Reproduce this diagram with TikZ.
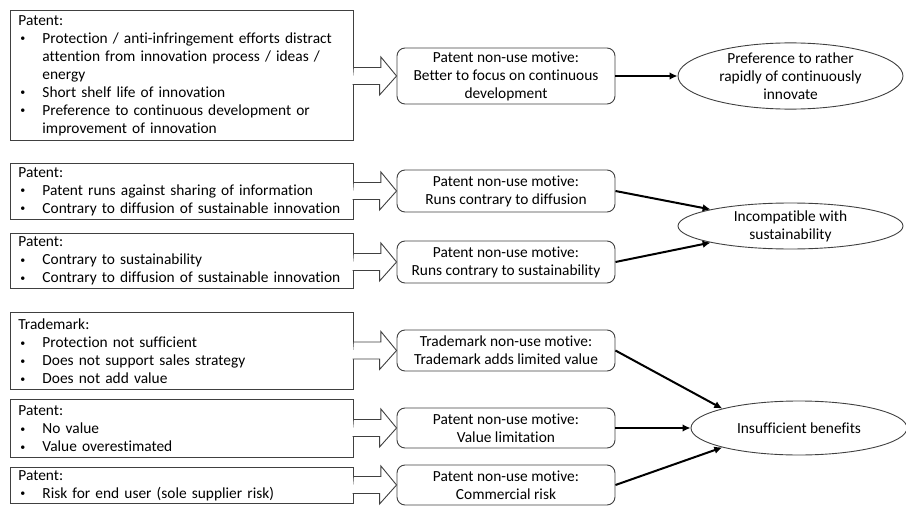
\documentclass[tikz,border=0pt]{standalone}
\usepackage{fontspec}
\setmainfont{Carlito}[Ligatures=NoCommon]
\usetikzlibrary{arrows.meta,shapes.geometric}
\newcommand\bul{\makebox[24pt][l]{\hspace{2pt}\raisebox{1.2pt}{\fontsize{10}{10}\selectfont\textbullet}}}
\newcommand\ind{\hspace*{24pt}}
\newcommand\hollowarrow[2]{\draw[harrow] (#1.east |- #2.west) ++(0,-8.5) -- ++(27,0) -- ++(0,-10.5) -- (#2.west) -- ++(-17,19) -- ++(0,-10.5) -- ++(-27,0);}
\begin{document}
\begin{tikzpicture}[x=1pt,y=-1pt,
  every node/.style={font=\fontsize{15.4}{18}\selectfont},
  tbox/.style={draw=black!75,line width=0.9pt,rectangle,anchor=north west,inner xsep=8pt,inner ysep=0pt,text width=327pt,align=left,minimum width=343pt},
  mbox/.style={draw=black!75,line width=0.9pt,rounded corners=8pt,minimum width=218pt,inner sep=0pt,align=center},
  ebox/.style={draw=black!75,line width=0.9pt,ellipse,inner sep=0pt,align=center},
  harrow/.style={draw=black!75,line width=0.9pt,fill=white,line join=miter},
  thick arrow/.style={draw=black,line width=2pt,-{Latex[length=8pt,width=7.5pt]}}]
\useasboundingbox (0,0) rectangle (906,506);

% left text boxes
\node[tbox,minimum height=130pt] (t1) at (10,10) {Patent:\\
\bul Protection / anti-infringement efforts distract\\
\ind attention from innovation process / ideas /\\
\ind energy\\
\bul Short shelf life of innovation\\
\bul Preference to continuous development or\\
\ind improvement of innovation};
\node[tbox,minimum height=56pt] (t2) at (10,163) {Patent:\\
\bul Patent runs against sharing of information\\
\bul Contrary to diffusion of sustainable innovation};
\node[tbox,minimum height=55pt] (t3) at (10,233) {Patent:\\
\bul Contrary to sustainability\\
\bul Contrary to diffusion of sustainable innovation};
\node[tbox,minimum height=77pt] (t4) at (10,312) {Trademark:\\
\bul Protection not sufficient\\
\bul Does not support sales strategy\\
\bul Does not add value};
\node[tbox,minimum height=58pt] (t5) at (10,399) {Patent:\\
\bul No value\\
\bul Value overestimated};
\node[tbox,minimum height=36pt] (t6) at (10,467) {Patent:\\
\bul Risk for end user (sole supplier risk)};

% motive boxes
\node[mbox,minimum height=56pt] (m1) at (506,76) {Patent non-use motive:\\Better to focus on continuous\\development};
\node[mbox,minimum height=42pt] (m2) at (506,191) {Patent non-use motive:\\Runs contrary to diffusion};
\node[mbox,minimum height=42pt] (m3) at (506,262) {Patent non-use motive:\\Runs contrary to sustainability};
\node[mbox,minimum height=41pt] (m4) at (506,350.5) {Trademark non-use motive:\\Trademark adds limited value};
\node[mbox,minimum height=40pt] (m5) at (506,428) {Patent non-use motive:\\Value limitation};
\node[mbox,minimum height=40pt] (m6) at (506,485) {Patent non-use motive:\\Commercial risk};

% outcome ellipses
\node[ebox,minimum width=225pt,minimum height=57pt] (e1) at (790.5,76) {Preference to rather\\rapidly of continuously\\innovate};
\node[ebox,minimum width=225pt,minimum height=46pt] (e2) at (790.5,226) {Incompatible with\\sustainability};
\node[ebox,minimum width=216pt,minimum height=54pt] (e3) at (799,428) {Insufficient benefits};

% hollow arrows
\hollowarrow{t1}{m1}
\hollowarrow{t2}{m2}
\hollowarrow{t3}{m3}
\hollowarrow{t4}{m4}
\hollowarrow{t5}{m5}
\hollowarrow{t6}{m6}

% thick arrows
\draw[thick arrow] (m1.east) -- (e1.west);
\draw[thick arrow] (m2.east) -- (e2.north west);
\draw[thick arrow] (m3.east) -- (e2.south west);
\draw[thick arrow] (m4.east) -- (e3.north west);
\draw[thick arrow] (m5.east) -- (e3.west);
\draw[thick arrow] (m6.east) -- (e3.south west);
\end{tikzpicture}
\end{document}
